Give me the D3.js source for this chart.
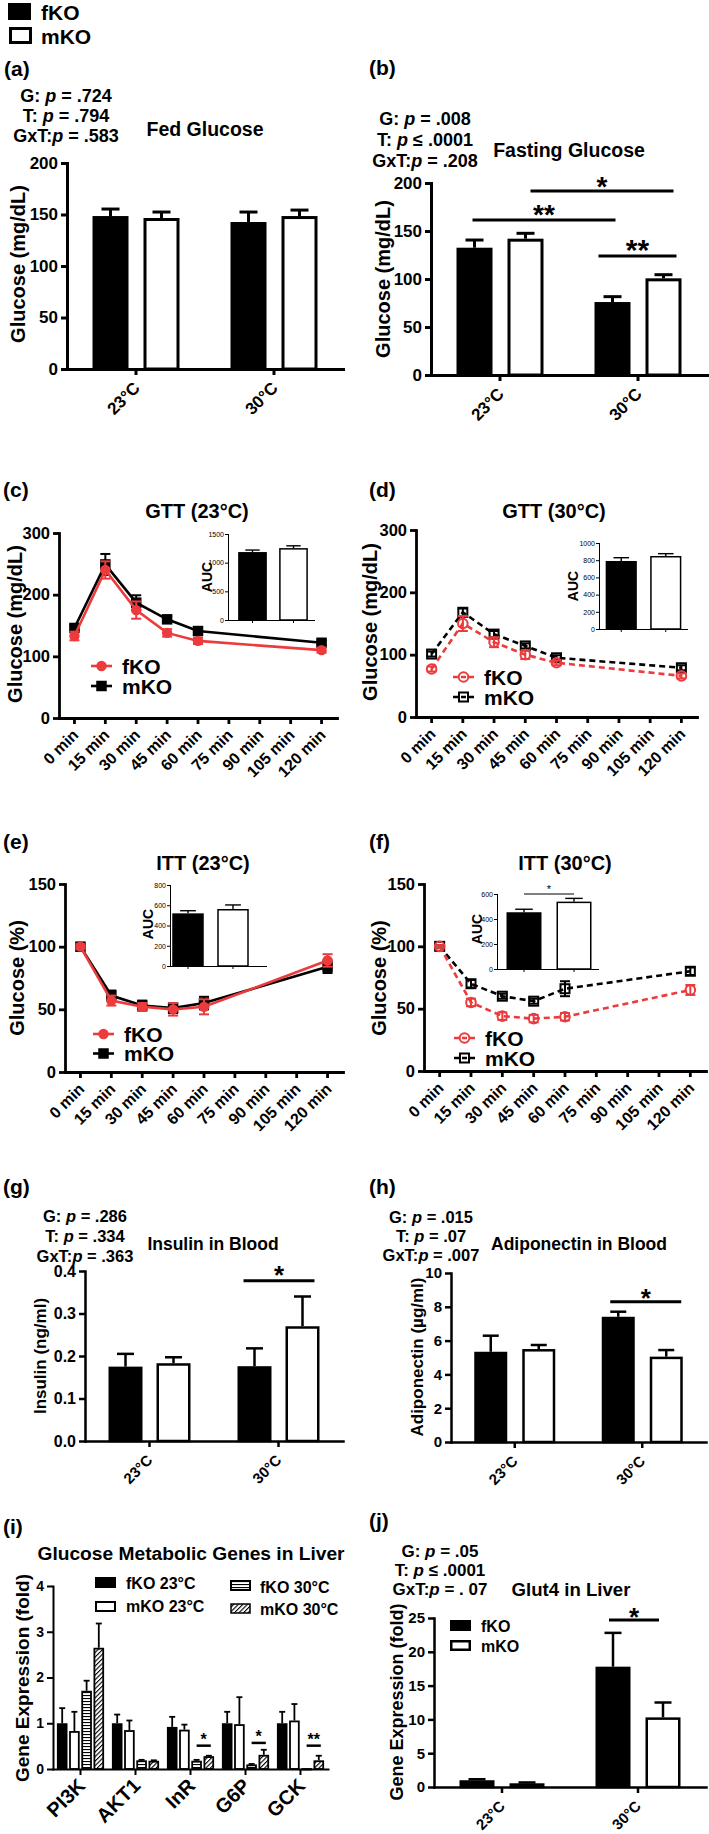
<!DOCTYPE html>
<html><head><meta charset="utf-8">
<script src="https://cdn.jsdelivr.net/npm/d3@7"></script>
<style>body{margin:0;background:#fff}</style>
</head><body>
<script>
// ---------------- DATA ----------------
const groups = ["fKO", "mKO"];
const temps = ["23°C", "30°C"];
const timeLabels = ["0 min","15 min","30 min","45 min","60 min","75 min","90 min","105 min","120 min"];
const sampleTimes = ["0 min","15 min","30 min","45 min","60 min","120 min"];
const pLabels = ["G: ", "T: ", "GxT:"];
const pA = [" = .724", " = .794", " = .583"];
const pB = [" = .008", " ≤ .0001", " = .208"];
const pG = [" = .286", " = .334", " = .363"];
const pH = [" = .015", " = .07", " = .007"];
const pJ = [" = .05", " ≤ .0001", " = . 07"];

// (a) fed glucose
const fedFKO = [148.5, 142.7], fedFKOErr = [6.8, 9.7];
const fedMKO = [146.6, 148.5], fedMKOErr = [5.8, 5.8];
const ticksGlu = [0, 50, 100, 150, 200];
// (b) fasting glucose
const fastFKO = [132.6, 76], fastFKOErr = [8, 5.6];
const fastMKO = [142, 100.7], fastMKOErr = [5.6, 3.8];
// (c)-(f) tolerance tests
const gtt23FKO = [133, 240, 175, 138, 125, 110], gtt23FKOErr = [7, 14, 14, 6, 5, 4];
const gtt23MKO = [146, 249, 187, 160, 141, 122], gtt23MKOErr = [4, 17, 12, 5, 4, 4];
const gtt30FKO = [77, 150, 120, 100, 87, 66], gtt30FKOErr = [4, 12, 8, 7, 4, 4];
const gtt30MKO = [101, 168, 133, 114, 95, 79], gtt30MKOErr = [4, 6, 5, 4, 4, 4];
const itt23FKO = [100, 57, 52, 50, 52, 89], itt23FKOErr = [2, 4, 3, 5, 6, 5];
const itt23MKO = [100, 61, 53, 51, 55, 84], itt23MKOErr = [2, 4, 4, 4, 5, 5];
const itt30FKO = [100, 55, 44, 42, 43.5, 65], itt30FKOErr = [1, 3, 3, 3, 3, 4];
const itt30MKO = [100, 70, 60, 56, 66, 80], itt30MKOErr = [1, 3, 2, 2, 6, 3];
const ticksGTT = [0, 100, 200, 300];
const ticksITT = [0, 50, 100, 150];
// insets (AUC)
const aucGtt23 = [1185, 1254], aucGtt23Err = [35, 40], ticksAucGtt23 = [0, 500, 1000, 1500];
const aucGtt30 = [791, 849], aucGtt30Err = [38, 27], ticksAucGtt30 = [0, 200, 400, 600, 800, 1000];
const aucItt23 = [520, 563], aucItt23Err = [26, 40], ticksAucItt23 = [0, 200, 400, 600, 800];
const aucItt30 = [454, 539], aucItt30Err = [24, 26], ticksAucItt30 = [0, 200, 400, 600];
// (g) insulin, (h) adiponectin
const insFKO = [0.175, 0.176], insFKOErr = [0.03, 0.042];
const insMKO = [0.183, 0.27], insMKOErr = [0.014, 0.07];
const ticksIns = [0, 0.1, 0.2, 0.3, 0.4];
const adipoFKO = [5.34, 7.41], adipoFKOErr = [0.95, 0.3];
const adipoMKO = [5.5, 5.05], adipoMKOErr = [0.24, 0.39];
const ticksAdipo = [0, 2, 4, 6, 8, 10];
// (i) genes
const genes = ["PI3K", "AKT1", "InR", "G6P", "GCK"];
const geneSeries = ["fKO 23°C", "mKO 23°C", "fKO 30°C", "mKO 30°C"];
const genesFKO23 = [1, 1, 0.92, 1, 1], genesFKO23Err = [0.33, 0.19, 0.22, 0.25, 0.25];
const genesMKO23 = [0.83, 0.85, 0.86, 0.98, 1.06], genesMKO23Err = [0.42, 0.21, 0.11, 0.59, 0.36];
const genesFKO30 = [1.71, 0.19, 0.18, 0.1, 0.02], genesFKO30Err = [0.22, 0.01, 0.02, 0.01, 0];
const genesMKO30 = [2.65, 0.18, 0.28, 0.31, 0.19], genesMKO30Err = [0.53, 0.01, 0.01, 0.11, 0.1];
const ticksGenes = [0, 1, 2, 3, 4];
// (j) Glut4
const glutFKO = [1.0, 17.8], glutFKOErr = [0.15, 5.0];
const glutMKO = [0.55, 10.3], glutMKOErr = [0.12, 2.2];
const ticksGlut = [0, 5, 10, 15, 20, 25];

// ---------------- DRAWING ----------------
const RED = "#ec3b3d";
const FONT = '"Liberation Sans", Arial, Helvetica, sans-serif';
const svg = d3.select("body").append("svg").attr("width", 709).attr("height", 1834)
  .attr("font-family", FONT).attr("font-weight", "bold");

const defs = svg.append("defs");
const ph = defs.append("pattern").attr("id", "hstripe").attr("patternUnits", "userSpaceOnUse").attr("width", 4).attr("height", 3);
ph.append("rect").attr("width", 4).attr("height", 3).attr("fill", "#fff");
ph.append("rect").attr("width", 4).attr("height", 1.1).attr("fill", "#000");
const pd = defs.append("pattern").attr("id", "diag").attr("patternUnits", "userSpaceOnUse").attr("width", 3.2).attr("height", 3.2)
  .attr("patternTransform", "rotate(45)");
pd.append("rect").attr("width", 3.2).attr("height", 3.2).attr("fill", "#fff");
pd.append("rect").attr("width", 1.1).attr("height", 3.2).attr("fill", "#000");

function T(x, y, s, size, anchor = "start", rot = 0) {
  const t = svg.append("text").attr("x", x).attr("y", y).attr("font-size", size).attr("text-anchor", anchor).text(s);
  if (rot) t.attr("transform", `rotate(${rot},${x},${y})`);
  return t;
}
function pvals(cx, y0, lh, size, vals) {
  pLabels.forEach((l, i) => {
    const t = svg.append("text").attr("x", cx).attr("y", y0 + i * lh).attr("font-size", size).attr("text-anchor", "middle");
    t.append("tspan").text(l);
    t.append("tspan").attr("font-style", "italic").text("p");
    t.append("tspan").text(vals[i]);
  });
}
function styleAxis(g, size, sw, weight = "bold") {
  g.attr("font-family", FONT).attr("font-size", size).attr("font-weight", weight);
  g.select(".domain").attr("stroke", "#000").attr("stroke-width", sw).attr("stroke-linecap", "square");
  g.selectAll(".tick line").attr("stroke", "#000").attr("stroke-width", sw);
  g.selectAll(".tick text").attr("fill", "#000");
}
function rotLabels(g, dx, dy) {
  g.selectAll(".tick text").attr("text-anchor", "end").attr("x", 0).attr("y", 0).attr("dy", null)
    .attr("transform", `translate(${dx},${dy}) rotate(-45)`);
}

function barPanel(o) {
  const x = d3.scaleBand().domain(o.cats).range([o.x0, o.x1]);
  const y = d3.scaleLinear().domain([0, o.max]).range([o.yBot, o.yTop]);
  const n = o.series.length, W = n * o.barW + (n - 1) * o.gap;
  const inner = d3.scaleBand().domain(d3.range(n)).range([-W / 2, W / 2]).paddingInner(o.gap / (o.barW + o.gap));
  const cx = (c, i) => x(c) + x.bandwidth() / 2 + inner(i) + inner.bandwidth() / 2;
  const g = svg.append("g");
  o.series.forEach((s, i) => {
    o.cats.forEach((c, j) => {
      const v = s.vals[j], e = s.errs[j], xc = cx(c, i), bw = inner.bandwidth();
      if (e > 0) {
        g.append("line").attr("x1", xc).attr("x2", xc).attr("y1", y(v)).attr("y2", y(v + e))
          .attr("stroke", "#000").attr("stroke-width", o.sw);
        g.append("line").attr("x1", xc - o.cap / 2).attr("x2", xc + o.cap / 2).attr("y1", y(v + e)).attr("y2", y(v + e))
          .attr("stroke", "#000").attr("stroke-width", o.sw);
      }
      g.append("rect").attr("x", xc - bw / 2 + o.sw / 2).attr("y", y(v) + o.sw / 2)
        .attr("width", bw - o.sw).attr("height", Math.max(0.5, y(0) - y(v) - o.sw / 2))
        .attr("fill", s.fill).attr("stroke", "#000").attr("stroke-width", o.sw);
    });
  });
  const ya = svg.append("g").attr("transform", `translate(${o.x0},0)`)
    .call(d3.axisLeft(y).tickValues(o.ticks).tickFormat(o.fmt || (d => d)).tickSize(6).tickSizeOuter(0).tickPadding(3));
  styleAxis(ya, o.tickSize, o.axisW);
  const xa = svg.append("g").attr("transform", `translate(0,${o.yBot})`)
    .call(d3.axisBottom(x).tickSize(6).tickSizeOuter(0));
  styleAxis(xa, o.xLabSize, o.axisW);
  rotLabels(xa, o.labDx, o.labDy);
  (o.sig || []).forEach(s => {
    const x1 = cx(s.c1, s.s1) + s.d1, x2 = cx(s.c2, s.s2) + s.d2, yy = y(s.v);
    svg.append("line").attr("x1", x1).attr("x2", x2).attr("y1", yy).attr("y2", yy)
      .attr("stroke", "#000").attr("stroke-width", s.w || 3);
    T((x1 + x2) / 2, yy + s.off, s.label, s.size, "middle");
  });
  return { x, y };
}

function insetAUC(o) {
  const x = d3.scaleBand().domain(groups).range([o.bx0, o.bx1]).paddingInner(0.3).paddingOuter(0.15);
  const y = d3.scaleLinear().domain([0, o.max]).range([o.yBot, o.yTop]);
  const g = svg.append("g");
  groups.forEach((k, i) => {
    const v = o.vals[i], e = o.errs[i], xc = x(k) + x.bandwidth() / 2, bw = x.bandwidth();
    g.append("line").attr("x1", xc).attr("x2", xc).attr("y1", y(v)).attr("y2", y(v + e)).attr("stroke", "#000").attr("stroke-width", 1.4);
    g.append("line").attr("x1", xc - bw / 4).attr("x2", xc + bw / 4).attr("y1", y(v + e)).attr("y2", y(v + e)).attr("stroke", "#000").attr("stroke-width", 1.4);
    g.append("rect").attr("x", x(k) + 0.75).attr("y", y(v) + 0.75).attr("width", bw - 1.5).attr("height", y(0) - y(v) - 0.75)
      .attr("fill", i === 0 ? "#000" : "#fff").attr("stroke", "#000").attr("stroke-width", 1.5);
  });
  const ya = svg.append("g").attr("transform", `translate(${o.ax},0)`)
    .call(d3.axisLeft(y).tickValues(o.ticks).tickFormat(d3.format("d")).tickSize(3).tickSizeOuter(0).tickPadding(1));
  styleAxis(ya, 7, 1, "normal");
  ya.selectAll(".tick text").attr("font-family", '"Liberation Sans Narrow", "Liberation Sans", Arial, sans-serif');
  svg.append("line").attr("x1", o.ax).attr("x2", o.axEnd).attr("y1", o.yBot + 0.5).attr("y2", o.yBot + 0.5).attr("stroke", "#000").attr("stroke-width", 1);
  groups.forEach(k => {
    const xc = x(k) + x.bandwidth() / 2;
    svg.append("line").attr("x1", xc).attr("x2", xc).attr("y1", o.yBot).attr("y2", o.yBot + 3).attr("stroke", "#000").attr("stroke-width", 1);
  });
  T(o.labX, o.labY, "AUC", 14, "middle", -90);
  if (o.sig) {
    const yy = y(o.sig.v);
    const x1 = x("fKO") + x.bandwidth() / 2, x2 = x("mKO") + x.bandwidth() / 2;
    svg.append("line").attr("x1", x1).attr("x2", x2).attr("y1", yy).attr("y2", yy).attr("stroke", "#000").attr("stroke-width", 1);
    T((x1 + x2) / 2, yy - 1, "*", 11, "middle").attr("font-weight", "normal");
  }
}

function linePanel(o) {
  const x = d3.scaleBand().domain(timeLabels).range([o.x0, o.x1]);
  const y = d3.scaleLinear().domain([0, o.max]).range([o.yBot, o.yTop]);
  const px = t => x(t) + x.bandwidth() / 2;
  const ya = svg.append("g").attr("transform", `translate(${o.x0},0)`)
    .call(d3.axisLeft(y).tickValues(o.ticks).tickSize(6).tickSizeOuter(0).tickPadding(3));
  styleAxis(ya, 16.5, 2.8);
  const xa = svg.append("g").attr("transform", `translate(0,${o.yBot})`)
    .call(d3.axisBottom(x).tickSize(6).tickSizeOuter(0));
  styleAxis(xa, 16, 2.8);
  rotLabels(xa, 5, 18);
  function symbol(s, cx, cy) {
    if (s.shape === "circle") {
      svg.append("circle").attr("cx", cx).attr("cy", cy).attr("r", s.open ? 4.8 : 5.2)
        .attr("fill", s.open ? "none" : s.color).attr("stroke", s.open ? s.color : "none").attr("stroke-width", 2);
    } else {
      const h = s.open ? 9 : 10.5;
      svg.append("rect").attr("x", cx - h / 2).attr("y", cy - h / 2).attr("width", h).attr("height", h)
        .attr("fill", s.open ? "none" : s.color).attr("stroke", s.open ? s.color : "none").attr("stroke-width", 2);
    }
  }
  o.series.forEach(s => {
    const pts = sampleTimes.map((t, i) => [px(t), y(s.vals[i])]);
    svg.append("path").attr("d", d3.line()(pts)).attr("fill", "none").attr("stroke", s.color)
      .attr("stroke-width", 2.6).attr("stroke-dasharray", s.open ? "6,4" : null);
    sampleTimes.forEach((t, i) => {
      const cx = px(t), v = s.vals[i], e = s.errs[i];
      const y1 = y(v - e), y2 = y(v + e);
      svg.append("line").attr("x1", cx).attr("x2", cx).attr("y1", y1).attr("y2", y2).attr("stroke", s.color).attr("stroke-width", 2);
      [y1, y2].forEach(yy => svg.append("line").attr("x1", cx - 5).attr("x2", cx + 5).attr("y1", yy).attr("y2", yy)
        .attr("stroke", s.color).attr("stroke-width", 2));
      symbol(s, cx, y(v));
    });
  });
  // legend (fKO first, then mKO)
  o.legendOrder.forEach((s, i) => {
    const ly = o.legY + i * o.legDy;
    svg.append("line").attr("x1", o.legX).attr("x2", o.legX + 21).attr("y1", ly).attr("y2", ly)
      .attr("stroke", s.color).attr("stroke-width", 2.6).attr("stroke-dasharray", s.open ? "5,3" : null);
    symbol(s, o.legX + 10.5, ly);
    T(o.legX + 31, ly + 7.5, s.name, 21);
  });
}

// ---------- top legend ----------
svg.append("rect").attr("x", 8).attr("y", 3).attr("width", 23).attr("height", 17).attr("fill", "#000");
svg.append("rect").attr("x", 10.5).attr("y", 28.5).attr("width", 20).attr("height", 14).attr("fill", "#fff").attr("stroke", "#000").attr("stroke-width", 3);
T(41, 19.5, groups[0], 21);
T(41, 43.5, groups[1], 21);

// ---------- (a) ----------
T(4, 76, "(a)", 21);
pvals(66, 101.5, 20, 18, pA);
T(205, 136, "Fed Glucose", 19.5, "middle");
T(25, 264, "Glucose (mg/dL)", 20, "middle", -90);
barPanel({x0: 67, x1: 343, yTop: 163, yBot: 369, max: 200, ticks: ticksGlu, cats: temps,
  series: [{vals: fedFKO, errs: fedFKOErr, fill: "#000"}, {vals: fedMKO, errs: fedMKOErr, fill: "#fff"}],
  barW: 36, gap: 15, sw: 3, cap: 18, axisW: 3, tickSize: 17, xLabSize: 17, labDx: 5, labDy: 20});

// ---------- (b) ----------
T(369, 75, "(b)", 21);
pvals(425, 125, 21, 18, pB);
T(569, 157, "Fasting Glucose", 19.5, "middle");
T(390, 279, "Glucose (mg/dL)", 20, "middle", -90);
barPanel({x0: 431, x1: 707, yTop: 183, yBot: 375, max: 200, ticks: ticksGlu, cats: temps,
  series: [{vals: fastFKO, errs: fastFKOErr, fill: "#000"}, {vals: fastMKO, errs: fastMKOErr, fill: "#fff"}],
  barW: 36, gap: 15, sw: 3, cap: 18, axisW: 3, tickSize: 17, xLabSize: 17, labDx: 5, labDy: 20,
  sig: [
    {c1: "23°C", s1: 1, d1: 5, c2: "30°C", s2: 1, d2: 10, v: 191.7, label: "*", size: 28, off: 5},
    {c1: "23°C", s1: 0, d1: -2, c2: "30°C", s2: 0, d2: 3, v: 161.5, label: "**", size: 28, off: 4},
    {c1: "30°C", s1: 0, d1: -14, c2: "30°C", s2: 1, d2: 13, v: 124, label: "**", size: 30, off: 4}
  ]});

// ---------- (c) ----------
T(3, 497, "(c)", 21);
T(197, 518, "GTT (23°C)", 20, "middle");
T(22, 624, "Glucose (mg/dL)", 20, "middle", -90);
{
  const sF = {name: "fKO", vals: gtt23FKO, errs: gtt23FKOErr, color: RED, shape: "circle", open: false};
  const sM = {name: "mKO", vals: gtt23MKO, errs: gtt23MKOErr, color: "#000", shape: "square", open: false};
  linePanel({x0: 59, x1: 337, yTop: 533, yBot: 718, max: 300, ticks: ticksGTT, series: [sM, sF],
    legendOrder: [sF, sM], legX: 91, legY: 666, legDy: 20});
  insetAUC({bx0: 232, bx1: 314, ax: 228, axEnd: 315, yTop: 534, yBot: 620, max: 1500, ticks: ticksAucGtt23,
    vals: aucGtt23, errs: aucGtt23Err, labX: 212, labY: 577});
}

// ---------- (d) ----------
T(369, 497, "(d)", 21);
T(554, 518, "GTT (30°C)", 20, "middle");
T(377, 622, "Glucose (mg/dL)", 20, "middle", -90);
{
  const sF = {name: "fKO", vals: gtt30FKO, errs: gtt30FKOErr, color: RED, shape: "circle", open: true};
  const sM = {name: "mKO", vals: gtt30MKO, errs: gtt30MKOErr, color: "#000", shape: "square", open: true};
  linePanel({x0: 416, x1: 697, yTop: 530, yBot: 717, max: 300, ticks: ticksGTT, series: [sM, sF],
    legendOrder: [sF, sM], legX: 453, legY: 677, legDy: 20});
  insetAUC({bx0: 599, bx1: 688, ax: 599, axEnd: 688, yTop: 543, yBot: 629, max: 1000, ticks: ticksAucGtt30,
    vals: aucGtt30, errs: aucGtt30Err, labX: 578, labY: 586});
}

// ---------- (e) ----------
T(3, 849, "(e)", 21);
T(203, 870, "ITT (23°C)", 20, "middle");
T(24, 978, "Glucose (%)", 20, "middle", -90);
{
  const sF = {name: "fKO", vals: itt23FKO, errs: itt23FKOErr, color: RED, shape: "circle", open: false};
  const sM = {name: "mKO", vals: itt23MKO, errs: itt23MKOErr, color: "#000", shape: "square", open: false};
  linePanel({x0: 65, x1: 343, yTop: 884, yBot: 1072, max: 150, ticks: ticksITT, series: [sM, sF],
    legendOrder: [sF, sM], legX: 93, legY: 1034, legDy: 19.5});
  insetAUC({bx0: 165.5, bx1: 255.5, ax: 170, axEnd: 267, yTop: 885, yBot: 966, max: 800, ticks: ticksAucItt23,
    vals: aucItt23, errs: aucItt23Err, labX: 153, labY: 924});
}

// ---------- (f) ----------
T(369, 849, "(f)", 21);
T(565, 870, "ITT (30°C)", 20, "middle");
T(386, 978, "Glucose (%)", 20, "middle", -90);
{
  const sF = {name: "fKO", vals: itt30FKO, errs: itt30FKOErr, color: RED, shape: "circle", open: true};
  const sM = {name: "mKO", vals: itt30MKO, errs: itt30MKOErr, color: "#000", shape: "square", open: true};
  linePanel({x0: 424, x1: 706, yTop: 884, yBot: 1071, max: 150, ticks: ticksITT, series: [sM, sF],
    legendOrder: [sF, sM], legX: 454, legY: 1038, legDy: 20});
  insetAUC({bx0: 499, bx1: 599, ax: 497, axEnd: 599, yTop: 894, yBot: 969, max: 600, ticks: ticksAucItt30,
    vals: aucItt30, errs: aucItt30Err, labX: 482, labY: 929, sig: {v: 600}});
}

// ---------- (g) ----------
T(3, 1194, "(g)", 21);
pvals(85, 1221.5, 20, 16.5, pG);
T(213, 1250, "Insulin in Blood", 17.5, "middle");
T(46, 1356, "Insulin (ng/ml)", 17, "middle", -90);
barPanel({x0: 85, x1: 343, yTop: 1271, yBot: 1441, max: 0.4, ticks: ticksIns, fmt: d3.format(".1f"), cats: temps,
  series: [{vals: insFKO, errs: insFKOErr, fill: "#000"}, {vals: insMKO, errs: insMKOErr, fill: "#fff"}],
  barW: 34, gap: 14, sw: 2.5, cap: 17, axisW: 2.5, tickSize: 16, xLabSize: 15, labDx: 4, labDy: 20,
  sig: [{c1: "30°C", s1: 0, d1: -11, c2: "30°C", s2: 1, d2: 12, v: 0.377, label: "*", size: 26, off: 3}]});

// ---------- (h) ----------
T(369, 1194, "(h)", 21);
pvals(431, 1222.5, 19, 16.5, pH);
T(579, 1250, "Adiponectin in Blood", 17.5, "middle");
T(423, 1357, "Adiponectin (µg/ml)", 17, "middle", -90);
barPanel({x0: 451, x1: 706, yTop: 1273, yBot: 1442, max: 10, ticks: ticksAdipo, cats: temps,
  series: [{vals: adipoFKO, errs: adipoFKOErr, fill: "#000"}, {vals: adipoMKO, errs: adipoMKOErr, fill: "#fff"}],
  barW: 33, gap: 15, sw: 2.5, cap: 16, axisW: 2.5, tickSize: 15, xLabSize: 15, labDx: 4, labDy: 20,
  sig: [{c1: "30°C", s1: 0, d1: -8, c2: "30°C", s2: 1, d2: 15, v: 8.3, label: "*", size: 26, off: 5}]});

// ---------- (i) ----------
T(3, 1534, "(i)", 21);
T(191, 1560, "Glucose Metabolic Genes in Liver", 19.2, "middle");
T(29, 1678, "Gene Expression (fold)", 19, "middle", -90);
barPanel({x0: 53, x1: 328, yTop: 1586, yBot: 1769, max: 4, ticks: ticksGenes, cats: genes,
  series: [
    {vals: genesFKO23, errs: genesFKO23Err, fill: "#000"},
    {vals: genesMKO23, errs: genesMKO23Err, fill: "#fff"},
    {vals: genesFKO30, errs: genesFKO30Err, fill: "url(#hstripe)"},
    {vals: genesMKO30, errs: genesMKO30Err, fill: "url(#diag)"}],
  barW: 10.6, gap: 1.6, sw: 1.8, cap: 6, axisW: 2, tickSize: 14, xLabSize: 20, labDx: 6, labDy: 18,
  sig: [
    {c1: "InR", s1: 2, d1: 0, c2: "InR", s2: 3, d2: 2, v: 0.51, label: "*", size: 16, off: -1, w: 2.5},
    {c1: "G6P", s1: 2, d1: 0, c2: "G6P", s2: 3, d2: 2, v: 0.57, label: "*", size: 16, off: -1, w: 2.5},
    {c1: "GCK", s1: 2, d1: 0, c2: "GCK", s2: 3, d2: 2, v: 0.51, label: "**", size: 16, off: -1, w: 2.5}
  ]});
// legend (i)
{
  const items = [
    {x: 95, y: 1577, fill: "#000", sw: 0, tx: 126, ty: 1589},
    {x: 96, y: 1602, fill: "#fff", sw: 2, tx: 126, ty: 1612},
    {x: 231, y: 1581, fill: "url(#hstripe)", sw: 2, tx: 260, ty: 1593},
    {x: 231, y: 1604, fill: "url(#diag)", sw: 1.5, tx: 260, ty: 1615}];
  items.forEach((it, i) => {
    svg.append("rect").attr("x", it.x).attr("y", it.y).attr("width", it.sw ? 19 : 21).attr("height", it.sw ? 9 : 11)
      .attr("fill", it.fill).attr("stroke", it.sw ? "#000" : "none").attr("stroke-width", it.sw);
    T(it.tx, it.ty, geneSeries[i], 16);
  });
}

// ---------- (j) ----------
T(369, 1528, "(j)", 21);
pvals(440, 1557, 19, 17, pJ);
T(571, 1596, "Glut4 in Liver", 18.6, "middle");
T(403, 1702, "Gene Expression (fold)", 18, "middle", -90);
barPanel({x0: 434, x1: 706, yTop: 1618, yBot: 1787, max: 25, ticks: ticksGlut, cats: temps,
  series: [{vals: glutFKO, errs: glutFKOErr, fill: "#000"}, {vals: glutMKO, errs: glutMKOErr, fill: "#fff"}],
  barW: 35, gap: 15, sw: 2.5, cap: 17, axisW: 2.5, tickSize: 15, xLabSize: 15, labDx: 4, labDy: 20,
  sig: [{c1: "30°C", s1: 0, d1: -4, c2: "30°C", s2: 1, d2: -4, v: 24.7, label: "*", size: 26, off: 6}]});
svg.append("rect").attr("x", 450).attr("y", 1620).attr("width", 21).attr("height", 11).attr("fill", "#000");
svg.append("rect").attr("x", 451.25).attr("y", 1641.25).attr("width", 18.5).attr("height", 8.5).attr("fill", "#fff").attr("stroke", "#000").attr("stroke-width", 2.5);
T(481, 1632, groups[0], 16);
T(481, 1652, groups[1], 16);
</script>
</body></html>
